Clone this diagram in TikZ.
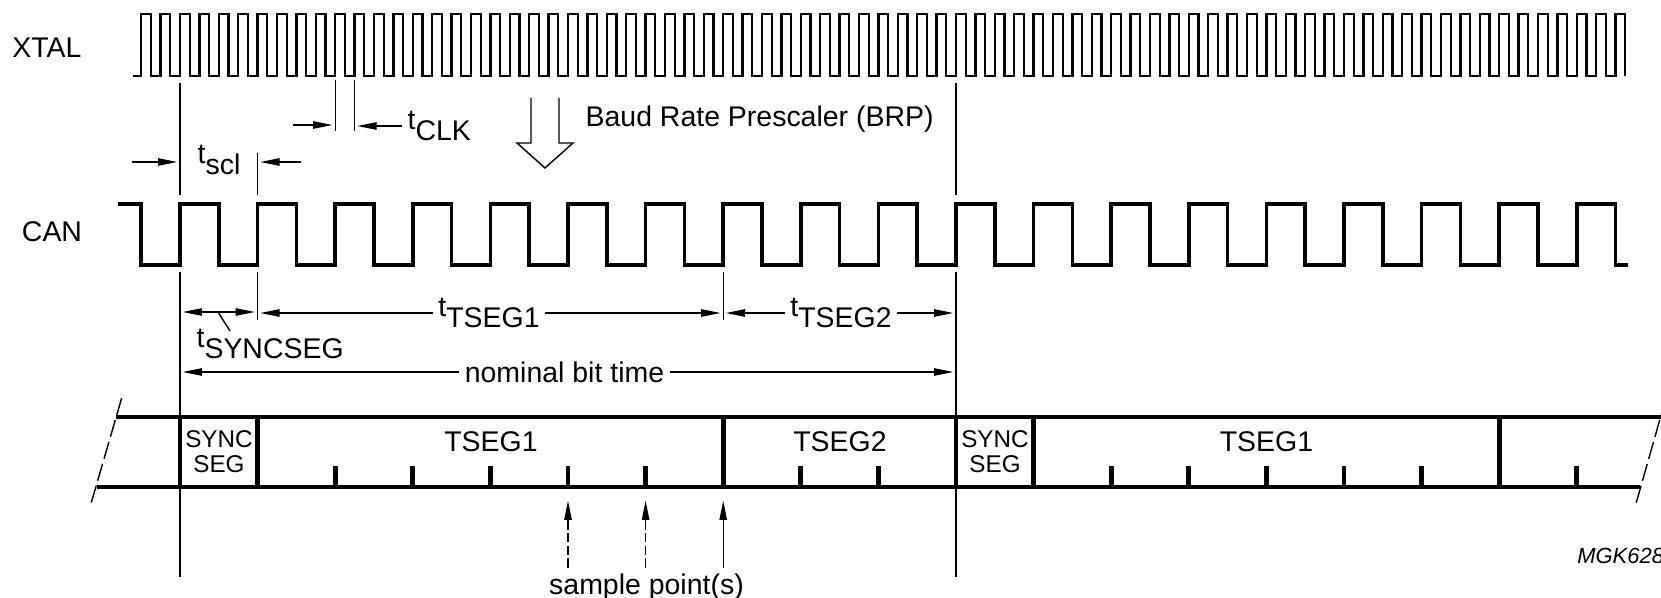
\documentclass[tikz,border=0pt]{standalone}
\usepackage{fontspec}
\setmainfont{Liberation Sans}
\usetikzlibrary{arrows.meta}

\newcommand{\tlbl}[1]{t\raisebox{-0.37em}{#1}}

\begin{document}
\begin{tikzpicture}[x=0.02cm, y=-0.02cm,
    font=\fontsize{16.2}{19}\selectfont,
    >={Triangle[length=11pt, width=4.2pt]},
    ref/.style={line width=0.8pt},
    dim/.style={line width=0.8pt, ->, shorten >=1.5pt},
    seg/.style={line width=2.7pt},
    brk/.style={line width=0.8pt, dash pattern=on 10pt off 3pt},
    lbl/.style={inner sep=3pt},
    segtxt/.style={font=\fontsize{13.8}{14.2}\selectfont, align=center, inner sep=0pt}]
    \useasboundingbox (0,0) rectangle (1661,598);

    % tq = 77.6, XTAL-Periode = tq/4
    \coordinate (b0) at (180,0);
    \coordinate (b1) at (257.6,0);
    \coordinate (b7) at (723.2,0);
    \coordinate (b10) at (956,0);
    \coordinate (c8) at (335.2,0);
    \coordinate (c9) at (354.6,0);

    \node[lbl] (xtal) at (47,48) {XTAL};
    \node[lbl] (can) at (52,232) {CAN};

    \draw[line width=1.3pt] (133,76) foreach \k in {-2,...,74} {
        -- ({180+19.4*(\k)},76) -- ++(0,-62) -- ++(9.7,0) -- ++(0,62)};
    \draw[line width=2.1pt] (118,204) -- (141.2,204) -- (141.2,265) foreach \k in {0,...,18} {
        -- ({180+77.6*\k},265) -- ++(0,-61) -- ++(38.8,0) -- ++(0,61)} -- (1628,265);

    \draw[ref] (180,83) -- (180,195) (180,272) -- (180,577);
    \draw[ref] (956,83) -- (956,195) (956,272) -- (956,577);
    \draw[ref] (257.6,153) -- (257.6,195) (257.6,272) -- (257.6,320);
    \draw[ref] (723.2,272) -- (723.2,320);
    \draw[ref] (335.2,80) -- (335.2,131) (354.6,80) -- (354.6,131);

    \draw[ref] (531,98) -- (531,143) -- (517,143) -- (545,168) -- (573,143) -- (559,143) -- (559,98);
    \node[lbl, anchor=west] (brp) at (580,119) {Baud Rate Prescaler (BRP)};

    \node[lbl, anchor=west] (t-clk) at (402,126) {\tlbl{CLK}};
    \coordinate (clk-in) at (292.7,125);
    \draw[dim] (clk-in) -- (clk-in -| c8);
    \draw[dim] (t-clk.west) -- (t-clk.west -| c9);

    \node[lbl] (t-scl) at (219,160) {\tlbl{scl}};
    \coordinate (scl-l) at (131.7,162);
    \coordinate (scl-r) at (301,162);
    \draw[dim] (scl-l) -- (scl-l -| b0);
    \draw[dim] (scl-r) -- (scl-r -| b1);

    \coordinate (row-seg) at (0,312);
    \draw[dim, <->, shorten <=1.5pt] (row-seg -| b0) -- (row-seg -| b1);
    \draw[ref] (218,312) -- (230,331);
    \node[lbl, anchor=west] (t-sync) at (191,344) {\tlbl{SYNCSEG}};
    \node[lbl] (t-seg1) at (489,313) {\tlbl{TSEG1}};
    \draw[dim] (t-seg1.west) -- (t-seg1.west -| b1);
    \draw[dim] (t-seg1.east) -- (t-seg1.east -| b7);
    \node[lbl] (t-seg2) at (841,313) {\tlbl{TSEG2}};
    \draw[dim] (t-seg2.west) -- (t-seg2.west -| b7);
    \draw[dim] (t-seg2.east) -- (t-seg2.east -| b10);
    \node[lbl] (nom) at (564.5,372) {nominal bit time};
    \draw[dim] (nom.west) -- (nom.west -| b0);
    \draw[dim] (nom.east) -- (nom.east -| b10);

    \draw[seg] (116,417) -- (1670,417);
    \draw[seg] (97,487) -- (1640,487);
    \foreach \k in {0,1,7,10,11,17}
        \draw[seg] ({180+77.6*\k},417) -- ({180+77.6*\k},487);
    \foreach \k in {2,3,4,5,6,8,9,12,13,14,15,16,18}
        \draw[seg] ({180+77.6*\k},466) -- ({180+77.6*\k},487);
    \draw[brk] (121.7,398) -- (90,507);
    \draw[brk] (1666,398) -- (1635,507);

    \node[segtxt] (sync-a) at (219,452) {SYNC\\SEG};
    \node (seg1-a) at (491,442) {TSEG1};
    \node (seg2) at (840,442) {TSEG2};
    \node[segtxt] (sync-b) at (995,452) {SYNC\\SEG};
    \node (seg1-b) at (1266.5,442) {TSEG1};

    \node[lbl] (sample) at (646.5,587) {sample point(s)};
    \coordinate (sp1) at (568,498);
    \coordinate (sp2) at (645.6,498);
    \coordinate (sp3) at (723.2,498);
    \draw[dim, dash pattern=on 5.5pt off 1.8pt] (sample.north -| sp1) -- (sp1);
    \draw[dim, dash pattern=on 5.5pt off 1.8pt] (sample.north -| sp2) -- (sp2);
    \draw[dim] (sample.north -| sp3) -- (sp3);

    \node[anchor=base west, inner sep=0pt, font=\fontsize{12.5}{14}\selectfont\itshape] (mgk) at (1577,563) {MGK628};
\end{tikzpicture}
\end{document}
